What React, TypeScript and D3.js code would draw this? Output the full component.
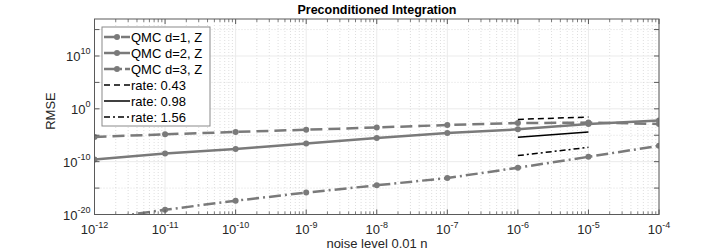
import React from "react";
import * as d3 from "d3";

const width = 728;
const height = 252;
const plot = { left: 94.5, right: 659, top: 19, bottom: 214.5 };
const gray = "#7a7a7a";
const axisColor = "#5a5a5a";
const font = "'Liberation Sans', Arial, Helvetica, sans-serif";

// noise level (x) shared by all QMC series
const noise = [1e-12, 1e-11, 1e-10, 1e-9, 1e-8, 1e-7, 1e-6, 1e-5, 1e-4];
const qmcD1 = [4.8e-6, 1.5e-5, 4.2e-5, 1.1e-4, 3.0e-4, 8.5e-4, 2.0e-3, 2.5e-3, 1.4e-3];
const qmcD2 = [2.6e-10, 3.5e-9, 2.6e-8, 2.6e-7, 3.1e-6, 2.7e-5, 1.3e-4, 1.3e-3, 6.3e-3];
const qmcD3 = [1e-21, 7.9e-20, 4.0e-18, 1.4e-16, 3.4e-15, 7.9e-14, 7.1e-12, 8.3e-10, 1.0e-7];

// reference rate segments
const rateX = [1e-6, 1e-5];
const rate043 = [1.0e-2, 2.8e-2];
const rate098 = [4.1e-6, 4.2e-5];
const rate156 = [1.4e-9, 5.1e-8];

const xTickExp = [-12, -11, -10, -9, -8, -7, -6, -5, -4];
const yLabelExp = [-20, -10, 0, 10];
const yMinorExp = [-15, -5, 5, 15];

const series = [
  { name: "QMC d=1, Z", values: qmcD1, dash: "12,6", legendDash: "13,4,9" },
  { name: "QMC d=2, Z", values: qmcD2, dash: "none", legendDash: "none" },
  { name: "QMC d=3, Z", values: qmcD3, dash: "12,4,2,4", legendDash: "13,3,2,3" },
];
const rates = [
  { name: "rate: 0.43", values: rate043, dash: "6,4" },
  { name: "rate: 0.98", values: rate098, dash: "none" },
  { name: "rate: 1.56", values: rate156, dash: "6,3,2,3" },
];

const xScale = d3.scaleLog().domain([1e-12, 1e-4]).range([plot.left, plot.right]);
const yScale = d3.scaleLog().domain([1e-20, 1e17]).range([plot.bottom, plot.top]);

const line = d3
  .line<[number, number]>()
  .x((d) => xScale(d[0]))
  .y((d) => yScale(d[1]));

function Pow({ x, y, exp, anchor }: { x: number; y: number; exp: number; anchor: string }) {
  return (
    <text x={x} y={y} textAnchor={anchor} fontSize={13} fontFamily={font} fill="#262626">
      10
      <tspan fontSize={9} dy={-6.5}>
        {exp}
      </tspan>
    </text>
  );
}

export default function App() {
  const xMinor: number[] = [];
  for (let e = -12; e < -4; e++) {
    for (let m = 2; m <= 9; m++) xMinor.push(m * Math.pow(10, e));
  }

  return (
    <svg
      width={width}
      height={height}
      style={{ position: "absolute", left: 0, top: 0, background: "#fff" }}
    >
      <defs>
        <clipPath id="plotClip">
          <rect x={plot.left} y={plot.top} width={plot.right - plot.left} height={plot.bottom - plot.top} />
        </clipPath>
      </defs>

      {/* grid */}
      <g>
        {xMinor.map((v, i) => (
          <line key={"xm" + i} x1={xScale(v)} x2={xScale(v)} y1={plot.top} y2={plot.bottom}
            stroke="#d0d0d0" strokeWidth={0.7} strokeDasharray="1,2" />
        ))}
        {yMinorExp.map((e) => (
          <line key={"ym" + e} x1={plot.left} x2={plot.right} y1={yScale(Math.pow(10, e))} y2={yScale(Math.pow(10, e))}
            stroke="#d0d0d0" strokeWidth={0.7} strokeDasharray="1,2" />
        ))}
        {xTickExp.map((e) => (
          <line key={"xg" + e} x1={xScale(Math.pow(10, e))} x2={xScale(Math.pow(10, e))} y1={plot.top} y2={plot.bottom}
            stroke="#ebebeb" strokeWidth={1} />
        ))}
        {yLabelExp.map((e) => (
          <line key={"yg" + e} x1={plot.left} x2={plot.right} y1={yScale(Math.pow(10, e))} y2={yScale(Math.pow(10, e))}
            stroke="#ebebeb" strokeWidth={1} />
        ))}
      </g>

      {/* data */}
      <g clipPath="url(#plotClip)">
        {series.map((s) => {
          const pts = noise.map((x, i) => [x, s.values[i]] as [number, number]);
          return (
            <g key={s.name}>
              <path d={line(pts) || ""} fill="none" stroke={gray} strokeWidth={2.5} strokeDasharray={s.dash} />
              {pts.map((p, i) => (
                <circle key={i} cx={xScale(p[0])} cy={yScale(p[1])} r={3} fill={gray} />
              ))}
            </g>
          );
        })}
        {rates.map((r) => {
          const pts = rateX.map((x, i) => [x, r.values[i]] as [number, number]);
          return (
            <path key={r.name} d={line(pts) || ""} fill="none" stroke="#000" strokeWidth={1.5} strokeDasharray={r.dash} />
          );
        })}
      </g>

      {/* axes box and ticks */}
      <rect x={plot.left} y={plot.top} width={plot.right - plot.left} height={plot.bottom - plot.top}
        fill="none" stroke={axisColor} strokeWidth={1} />
      {xTickExp.map((e) => {
        const x = xScale(Math.pow(10, e));
        return (
          <g key={"xt" + e}>
            <line x1={x} x2={x} y1={plot.bottom} y2={plot.bottom - 5} stroke={axisColor} />
            <line x1={x} x2={x} y1={plot.top} y2={plot.top + 5} stroke={axisColor} />
            <Pow x={x} y={plot.bottom + 19.5} exp={e} anchor="middle" />
          </g>
        );
      })}
      {xMinor.map((v, i) => {
        const x = xScale(v);
        return (
          <g key={"xmt" + i}>
            <line x1={x} x2={x} y1={plot.bottom} y2={plot.bottom - 3} stroke={axisColor} strokeWidth={0.8} />
            <line x1={x} x2={x} y1={plot.top} y2={plot.top + 3} stroke={axisColor} strokeWidth={0.8} />
          </g>
        );
      })}
      {yLabelExp.concat(yMinorExp).map((e) => {
        const y = yScale(Math.pow(10, e));
        return (
          <g key={"yt" + e}>
            <line x1={plot.left} x2={plot.left + 5} y1={y} y2={y} stroke={axisColor} />
            <line x1={plot.right} x2={plot.right - 5} y1={y} y2={y} stroke={axisColor} />
          </g>
        );
      })}
      {yLabelExp.map((e) => (
        <Pow key={"yl" + e} x={plot.left - 4} y={yScale(Math.pow(10, e)) + 5} exp={e} anchor="end" />
      ))}

      {/* labels */}
      <text x={377} y={14} textAnchor="middle" fontSize={12.5} fontWeight="bold" fontFamily={font} fill="#000">
        Preconditioned Integration
      </text>
      <text x={377} y={248} textAnchor="middle" fontSize={13} fontFamily={font} fill="#262626">
        noise level 0.01 n
      </text>
      <text transform={`translate(55,111) rotate(-90)`} textAnchor="middle" fontSize={13} fontFamily={font} fill="#262626">
        RMSE
      </text>

      {/* legend */}
      <g>
        <rect x={102} y={27} width={108} height={99} fill="#fff" stroke="#8a8a8a" strokeWidth={1} />
        {series.map((s, i) => {
          const y = 37 + i * 16;
          return (
            <g key={"lg" + s.name}>
              <line x1={104} x2={130} y1={y} y2={y} stroke={gray} strokeWidth={2.5} strokeDasharray={s.legendDash} />
              <circle cx={117} cy={y} r={3} fill={gray} />
              <text x={131} y={y + 4.5} fontSize={13} fontFamily={font} fill="#000">{s.name}</text>
            </g>
          );
        })}
        {rates.map((r, i) => {
          const y = 37 + (i + 3) * 16;
          return (
            <g key={"lr" + r.name}>
              <line x1={104} x2={130} y1={y} y2={y} stroke="#000" strokeWidth={1.5} strokeDasharray={r.dash} />
              <text x={131} y={y + 4.5} fontSize={13} fontFamily={font} fill="#000">{r.name}</text>
            </g>
          );
        })}
      </g>
    </svg>
  );
}
